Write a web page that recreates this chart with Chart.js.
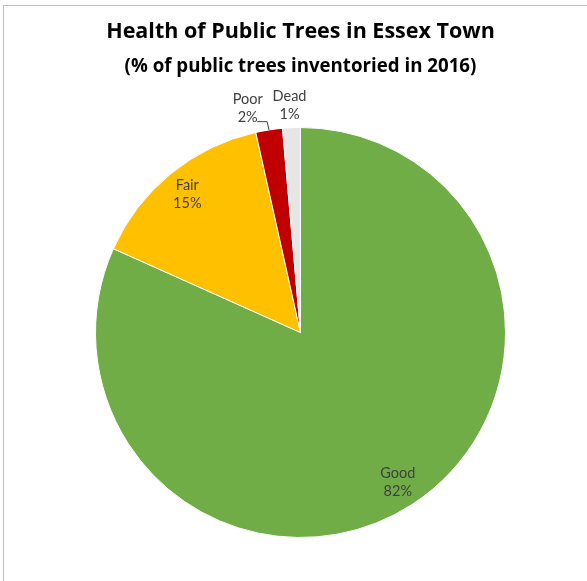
<!DOCTYPE html>
<html>
<head>
<meta charset="utf-8">
<script src="https://cdn.jsdelivr.net/npm/chart.js@4.4.0/dist/chart.umd.min.js"></script>
<style>
    html, body { margin: 0; padding: 0; background: #fff; }
    #wrap { width: 587px; height: 581px; }
</style>
</head>
<body>
<div id="wrap">
    <canvas id="treeChart" width="587" height="581"></canvas>
</div>
<script>
    const categories = ['Good', 'Fair', 'Poor', 'Dead']
    // slice sizes; labels show them rounded
    const percents = [81.7, 14.8, 2.1, 1.4]
    const sliceColors = ['#70AD47', '#FFC000', '#C00000', '#E7E6E6']
    const titleText = 'Health of Public Trees in Essex Town'
    const subtitleText = '(% of public trees inventoried in 2016)'

    // labels: inside ones at ~87% of radius, the two small ones sit outside
    const sliceLabels = {
        id: 'sliceLabels',
        afterDatasetsDraw(chart) {
            const ctx = chart.ctx
            const arcs = chart.getDatasetMeta(0).data
            ctx.save()
            ctx.font = '14.5px Lato, "Open Sans", sans-serif'
            ctx.fillStyle = '#404040'
            ctx.textAlign = 'center'
            ctx.textBaseline = 'middle'
            arcs.forEach((arc, i) => {
                const p = arc.getProps(['x', 'y', 'startAngle', 'endAngle', 'outerRadius'])
                const mid = (p.startAngle + p.endAngle) / 2
                let r = p.outerRadius * 0.873
                let dx = 0
                const outside = percents[i] < 5
                if (outside) {
                    r = p.outerRadius + 22
                    dx = i == 2 ? -18 : -1
                }
                const lx = p.x + Math.cos(mid) * r + dx
                const ly = p.y + Math.sin(mid) * r
                ctx.fillText(categories[i], lx, ly - 9)
                ctx.fillText(Math.round(percents[i]) + '%', lx, ly + 9)
                if (outside && i == 2) {
                    // leader line for "Poor"
                    const ex = p.x + Math.cos(mid) * p.outerRadius
                    const ey = p.y + Math.sin(mid) * p.outerRadius
                    ctx.strokeStyle = '#404040'
                    ctx.lineWidth = 1
                    ctx.beginPath()
                    ctx.moveTo(lx + 9.5, ly + 13.5)
                    ctx.lineTo(ex - 2, ly + 13.5)
                    ctx.lineTo(ex, ey)
                    ctx.stroke()
                }
            })
            ctx.restore()
        }
    }

    const frame = {
        id: 'frame',
        beforeDraw(chart) {
            const ctx = chart.ctx
            ctx.save()
            ctx.fillStyle = '#fff'
            ctx.fillRect(0, 0, chart.width, chart.height)
            ctx.strokeStyle = '#BFBFBF'
            ctx.lineWidth = 1
            ctx.strokeRect(3.5, 5.5, 600, 600)
            ctx.restore()
        }
    }

    new Chart(document.getElementById('treeChart'), {
        type: 'pie',
        data: {
            labels: categories,
            datasets: [{
                data: percents,
                backgroundColor: sliceColors,
                borderColor: '#fff',
                borderWidth: 1,
                hoverOffset: 0,
                offset: 0
            }]
        },
        options: {
            responsive: false,
            animation: false,
            events: [],
            layout: { padding: { left: 95, right: 81, top: 0, bottom: 43 } },
            plugins: {
                legend: { display: false },
                tooltip: { enabled: false },
                title: {
                    display: true,
                    text: titleText,
                    color: '#000',
                    font: { family: '"Open Sans", sans-serif', size: 21.5, weight: 'bold', lineHeight: 1.2 },
                    padding: { top: 19.1, bottom: 4 }
                },
                subtitle: {
                    display: true,
                    text: subtitleText,
                    color: '#000',
                    font: { family: '"Open Sans", sans-serif', size: 18.7, weight: 'bold', lineHeight: 1.2 },
                    padding: { top: 6.4, bottom: 49.26 }
                }
            }
        },
        plugins: [frame, sliceLabels]
    })
</script>
</body>
</html>
